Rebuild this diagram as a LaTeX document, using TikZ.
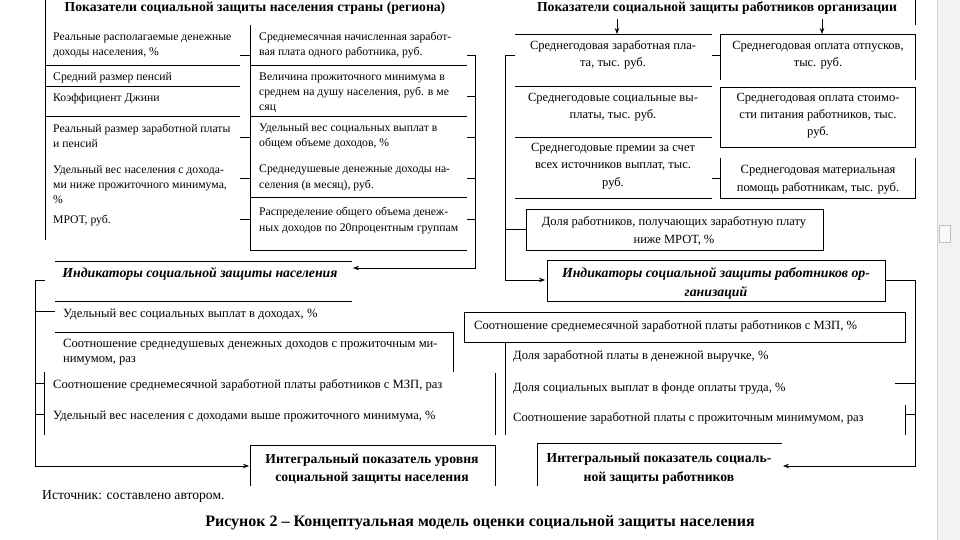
\documentclass[tikz,border=0pt]{standalone}
\usepackage{fontspec}
\setmainfont{Liberation Serif}
\usetikzlibrary{arrows.meta}
\tikzset{
  ln/.style={draw=black, line width=0.75pt},
  arr/.style={ln, -{Stealth[length=6pt,width=4.5pt]}},
  tx/.style={anchor=base west, inner sep=0pt, font=\fontsize{11.7}{14}\selectfont},
  tb/.style={anchor=base west, inner sep=0pt, font=\fontsize{12.6}{14}\selectfont},
  tc/.style={anchor=base, inner sep=0pt, font=\fontsize{12.5}{14}\selectfont},
  ttl/.style={anchor=base, inner sep=0pt, font=\fontsize{13.7}{15}\selectfont\bfseries},
  ind/.style={anchor=base, inner sep=0pt, font=\fontsize{13.8}{15}\selectfont\bfseries\itshape},
  intg/.style={anchor=base, inner sep=0pt, font=\fontsize{13.7}{15}\selectfont\bfseries},
}
\begin{document}
\begin{tikzpicture}[x=1pt,y=-1pt]
\useasboundingbox (0,0) rectangle (960,540);
% scrollbar of the viewer
\fill[gray!10] (937,0) rectangle (960,540);
\draw[gray!35, line width=0.6pt] (937,0) -- (937,540);
\draw[gray!50, fill=gray!4, line width=0.6pt] (939,225) rectangle (950,242);

% ---------------- top left block ----------------
\node[ttl] (T1) at (255,12) {Показатели социальной защиты населения страны (региона)};
\draw[ln] (45,0) -- (45,240);
\draw[ln] (45,65) -- (240,65);
\draw[ln] (45,86) -- (240,86);
\draw[ln] (45,116) -- (240,116);
\foreach \yy in {55,137,178,219} \draw[ln] (240,\yy) -- (250,\yy);
\draw[ln] (250,25) -- (250,250);
\foreach \yy in {65,116,197,250} \draw[ln] (250,\yy) -- (467,\yy);
\foreach \yy in {55,96,137,178,219} \draw[ln] (467,\yy) -- (475,\yy);

\node[tx] (a1) at (53,41) {Реальные располагаемые денежные};
\node[tx] (a2) at (53,56) {доходы населения, \%};
\node[tx] (a3) at (53,81) {Средний размер пенсий};
\node[tx] (a4) at (53,102) {Коэффициент Джини};
\node[tx] (a5) at (53,133) {Реальный размер заработной платы};
\node[tx] (a6) at (53,148) {и пенсий};
\node[tx] (a7) at (53,174) {Удельный вес населения с дохода-};
\node[tx] (a8) at (53,188) {ми ниже прожиточного минимума,};
\node[tx] (a9) at (53,203) {\%};
\node[tx] (a10) at (53,223) {МРОТ, руб.};

\node[tx] (b1) at (259,41) {Среднемесячная начисленная заработ-};
\node[tx] (b2) at (259,56) {вая плата одного работника, руб.};
\node[tx] (b3) at (259,81) {Величина прожиточного минимума в};
\node[tx] (b4) at (259,96) {среднем на душу населения, руб. в ме};
\node[tx] (b5) at (259,111) {сяц};
\node[tx] (b6) at (259,132) {Удельный вес социальных выплат в};
\node[tx] (b7) at (259,147) {общем объеме доходов, \%};
\node[tx] (b8) at (259,173) {Среднедушевые денежные доходы на-};
\node[tx] (b9) at (259,188) {селения (в месяц), руб.};
\node[tx] (b10) at (259,215) {Распределение общего объема денеж-};
\node[tx] (b11) at (259,231) {ных доходов по 20процентным группам};

% indicators of population
\node[ind] (IP) at (200,277) {Индикаторы социальной защиты населения};
\coordinate (IPr) at (353,268);
\draw[arr] (475,55) -- (475,268) -- (IPr);
\draw[ln] (55,261) -- (352,261);
\draw[ln] (55,301) -- (352,301);

\node[tb] (c1) at (63,317) {Удельный вес социальных выплат в доходах, \%};
\node[tb] (c2) at (63,347) {Соотношение среднедушевых денежных доходов с прожиточным ми-};
\node[tb] (c3) at (63,362) {нимумом, раз};
\node[tb] (c4) at (53,388) {Соотношение среднемесячной заработной платы работников с МЗП, раз};
\node[tb] (c5) at (53,419) {Удельный вес населения с доходами выше прожиточного минимума, \%};

\draw[ln] (55,332) -- (453,332) -- (453,372);
\draw[ln] (44,372) -- (44,435);
\draw[ln] (35,383) -- (44,383);
\draw[ln] (35,414) -- (44,414);
\draw[ln] (35,311) -- (55,311);

% integral population
\node[intg] (IA1) at (372,463) {Интегральный показатель уровня};
\node[intg] (IA2) at (372,481) {социальной защиты населения};
\coordinate (IAl) at (249,466);
\draw[arr] (45,280) -- (35,280) -- (35,466) -- (IAl);
\draw[ln] (250,486) -- (250,445) -- (495,445) -- (495,486);

\draw[ln] (495,373) -- (495,435);
\draw[ln] (505,343) -- (505,435);

% ---------------- top right block ----------------
\node[ttl] (T2) at (717,12) {Показатели социальной защиты работников организации};
\draw[ln] (915,0) -- (915,25);
\coordinate (A1) at (617,19);
\coordinate (A1e) at (617,34);
\coordinate (A2) at (822,19);
\coordinate (A2e) at (822,34);
\draw[arr] (A1) -- (A1e);
\draw[arr] (A2) -- (A2e);

\foreach \yy in {34,86,137,198} \draw[ln] (515,\yy) -- (712,\yy);
\draw[ln] (505,55) -- (515,55);
\draw[ln] (505,229) -- (526,229);
\draw[ln] (712,55) -- (720,55);
\draw[ln] (712,178) -- (720,178);
\draw[ln] (720,80) -- (720,34) -- (915,34) -- (915,80);
\draw[ln] (720,87) rectangle (915,147);
\draw[ln] (720,158) -- (720,198) -- (915,198) -- (915,158);
\draw[ln] (526,209) rectangle (823,250);

\node[tc] (d1) at (613,50) {Среднегодовая заработная пла-};
\node[tc] (d2) at (613,67) {та, тыс. руб.};
\node[tc] (d3) at (613,102) {Среднегодовые социальные вы-};
\node[tc] (d4) at (613,119) {платы, тыс. руб.};
\node[tc] (d5) at (613,152) {Среднегодовые премии за счет};
\node[tc] (d6) at (613,169) {всех источников выплат, тыс.};
\node[tc] (d7) at (613,186) {руб.};

\node[tc] (e1) at (818,50) {Среднегодовая оплата отпусков,};
\node[tc] (e2) at (818,67) {тыс. руб.};
\node[tc] (e3) at (818,102) {Среднегодовая оплата стоимо-};
\node[tc] (e4) at (818,119) {сти питания работников, тыс.};
\node[tc] (e5) at (818,136) {руб.};
\node[tc] (e6) at (818,174) {Среднегодовая материальная};
\node[tc] (e7) at (818,191) {помощь работникам, тыс. руб.};

\node[tc] (f1) at (674,225) {Доля работников, получающих заработную плату};
\node[tc] (f2) at (674,243) {ниже МРОТ, \%};

% indicators of workers
\draw[ln] (547,260) rectangle (885,301);
\node[ind] (IW1) at (716,277) {Индикаторы социальной защиты работников ор-};
\node[ind] (IW2) at (716,296) {ганизаций};
\coordinate (IWl) at (545,280);
\draw[arr] (505,55) -- (505,280) -- (IWl);

\draw[ln] (464,312) rectangle (905,342);
\node[tb] (g1) at (474,329) {Соотношение среднемесячной заработной платы работников с МЗП, \%};
\node[tb] (g2) at (513,359) {Доля заработной платы в денежной выручке, \%};
\node[tb] (g3) at (513,391) {Доля социальных выплат в фонде оплаты труда, \%};
\node[tb] (g4) at (513,421) {Соотношение заработной платы с прожиточным минимумом, раз};

\draw[ln] (895,383) -- (915,383);
\draw[ln] (905,405) -- (905,435);
\draw[ln] (905,414) -- (915,414);

% integral workers
\node[intg] (IB1) at (659,462) {Интегральный показатель социаль-};
\node[intg] (IB2) at (659,481) {ной защиты работников};
\coordinate (IBr) at (783,466);
\draw[arr] (885,280) -- (915,280) -- (915,466) -- (IBr);
\draw[ln] (537,486) -- (537,443) -- (782,443);

% footer
\node[anchor=base west, inner sep=0pt, font=\fontsize{13.6}{15}\selectfont] (src) at (42,499) {Источник: составлено автором.};
\node[anchor=base, inner sep=0pt, font=\fontsize{16}{18}\selectfont\bfseries] (cap) at (480,526) {Рисунок 2 – Концептуальная модель оценки социальной защиты населения};
\end{tikzpicture}
\end{document}
